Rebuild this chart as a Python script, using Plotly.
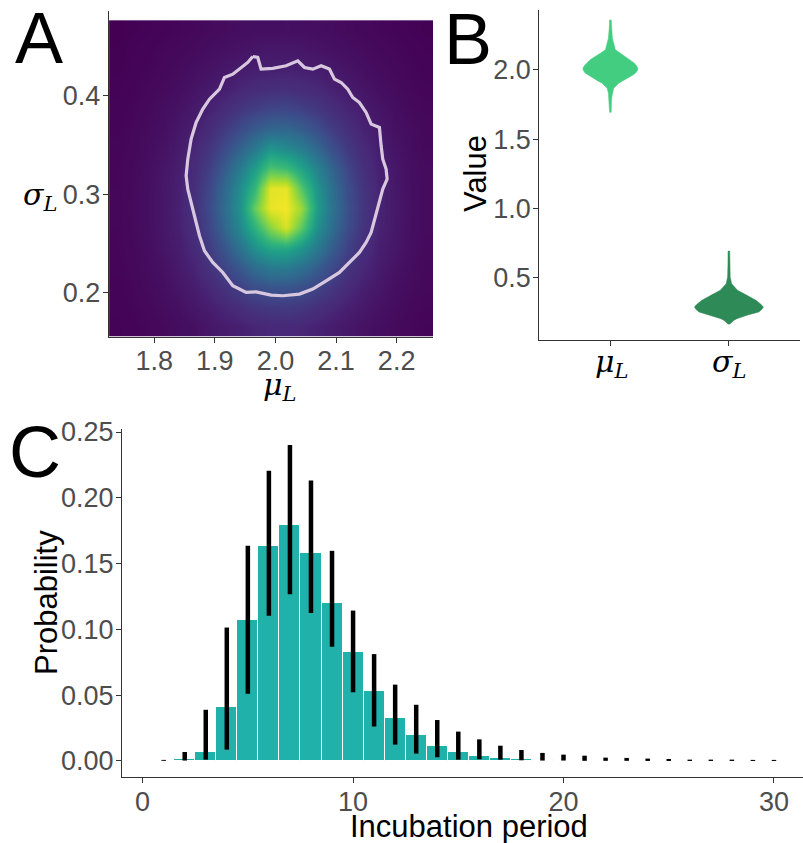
import plotly.graph_objects as go

W, H = 803, 843

# ---------------- Panel A: joint posterior density of (mu_L, sigma_L) ----------------
mu_centers = [1.738, 1.763, 1.789, 1.814, 1.840, 1.865, 1.891, 1.916, 1.941, 1.967, 1.992,
              2.018, 2.043, 2.069, 2.094, 2.120, 2.145, 2.171, 2.196, 2.222, 2.247]
sigma_centers = [0.165, 0.185, 0.205, 0.225, 0.245, 0.266, 0.286, 0.306, 0.326, 0.346,
                 0.366, 0.386, 0.407, 0.427, 0.447, 0.467]

# rows follow sigma_centers (bottom to top), columns follow mu_centers
density = [
    [0.004, 0.006, 0.010, 0.014, 0.020, 0.025, 0.036, 0.044, 0.050, 0.060, 0.065, 0.066, 0.062, 0.052, 0.045, 0.037, 0.028, 0.021, 0.016, 0.010, 0.007],
    [0.005, 0.008, 0.012, 0.019, 0.025, 0.037, 0.047, 0.062, 0.079, 0.100, 0.111, 0.113, 0.104, 0.084, 0.066, 0.049, 0.039, 0.027, 0.020, 0.013, 0.009],
    [0.006, 0.010, 0.016, 0.023, 0.034, 0.046, 0.065, 0.094, 0.129, 0.169, 0.188, 0.192, 0.175, 0.139, 0.104, 0.069, 0.049, 0.036, 0.024, 0.017, 0.011],
    [0.008, 0.012, 0.019, 0.027, 0.041, 0.058, 0.091, 0.140, 0.202, 0.278, 0.329, 0.336, 0.290, 0.221, 0.156, 0.099, 0.064, 0.044, 0.030, 0.020, 0.013],
    [0.009, 0.013, 0.021, 0.033, 0.046, 0.070, 0.117, 0.188, 0.294, 0.423, 0.516, 0.528, 0.443, 0.324, 0.216, 0.130, 0.078, 0.049, 0.036, 0.023, 0.015],
    [0.009, 0.015, 0.023, 0.036, 0.050, 0.082, 0.144, 0.245, 0.392, 0.577, 0.780, 0.930, 0.700, 0.426, 0.275, 0.161, 0.095, 0.055, 0.039, 0.024, 0.016],
    [0.010, 0.015, 0.023, 0.036, 0.052, 0.089, 0.156, 0.267, 0.430, 0.720, 0.960, 0.983, 0.820, 0.477, 0.296, 0.172, 0.101, 0.058, 0.040, 0.025, 0.017],
    [0.009, 0.015, 0.023, 0.036, 0.050, 0.084, 0.148, 0.253, 0.406, 0.600, 0.950, 0.960, 0.680, 0.440, 0.282, 0.165, 0.097, 0.056, 0.039, 0.024, 0.016],
    [0.009, 0.014, 0.022, 0.034, 0.048, 0.074, 0.126, 0.210, 0.331, 0.477, 0.660, 0.620, 0.508, 0.365, 0.239, 0.142, 0.085, 0.050, 0.037, 0.023, 0.016],
    [0.008, 0.012, 0.020, 0.029, 0.043, 0.063, 0.101, 0.160, 0.239, 0.327, 0.450, 0.401, 0.348, 0.259, 0.175, 0.110, 0.069, 0.046, 0.032, 0.021, 0.014],
    [0.007, 0.011, 0.017, 0.024, 0.037, 0.049, 0.073, 0.112, 0.161, 0.210, 0.247, 0.253, 0.222, 0.171, 0.120, 0.080, 0.055, 0.040, 0.027, 0.019, 0.012],
    [0.005, 0.009, 0.014, 0.021, 0.029, 0.041, 0.054, 0.073, 0.102, 0.126, 0.145, 0.149, 0.132, 0.107, 0.079, 0.058, 0.044, 0.032, 0.022, 0.015, 0.010],
    [0.004, 0.007, 0.011, 0.016, 0.022, 0.031, 0.041, 0.049, 0.063, 0.073, 0.082, 0.084, 0.075, 0.066, 0.052, 0.043, 0.033, 0.023, 0.018, 0.011, 0.008],
    [0.002, 0.005, 0.008, 0.012, 0.017, 0.023, 0.029, 0.037, 0.044, 0.048, 0.050, 0.051, 0.049, 0.045, 0.039, 0.031, 0.024, 0.018, 0.013, 0.009, 0.006],
    [0.001, 0.004, 0.006, 0.010, 0.012, 0.017, 0.021, 0.025, 0.030, 0.035, 0.037, 0.037, 0.035, 0.031, 0.026, 0.022, 0.018, 0.013, 0.010, 0.007, 0.004],
    [0.000, 0.002, 0.004, 0.006, 0.009, 0.011, 0.015, 0.018, 0.021, 0.023, 0.023, 0.024, 0.023, 0.021, 0.019, 0.015, 0.012, 0.009, 0.007, 0.004, 0.002],
]

# highest-density region outline
hdr_mu = [1.9626, 1.9708, 1.9763, 1.9956, 2.0176, 2.0369, 2.0479, 2.0616, 2.0754, 2.0891,
          2.0974, 2.1084, 2.1194, 2.1276, 2.1386, 2.1496, 2.1579, 2.1716, 2.1744, 2.1771,
          2.1826, 2.1843, 2.1771, 2.1716, 2.1661, 2.1579, 2.1496, 2.1386, 2.1221, 2.1056,
          2.0836, 2.0616, 2.0396, 2.0121, 1.9928, 1.9681, 1.9516, 1.9296, 1.9131, 1.8966,
          1.8828, 1.8746, 1.8691, 1.8608, 1.8553, 1.8526, 1.8553, 1.8608, 1.8691, 1.8801,
          1.8911, 1.9076, 1.9158, 1.9296, 1.9406, 1.9543, 1.9626]
hdr_sigma = [0.4402, 0.4392, 0.4273, 0.4280, 0.4307, 0.4358, 0.4290, 0.4273, 0.4307, 0.4273,
             0.4171, 0.4137, 0.4069, 0.3984, 0.3933, 0.3832, 0.3713, 0.3679, 0.3492, 0.3356,
             0.3255, 0.3153, 0.3051, 0.2915, 0.2779, 0.2610, 0.2508, 0.2406, 0.2304, 0.2202,
             0.2117, 0.2033, 0.1982, 0.1965, 0.1971, 0.2005, 0.1999, 0.2067, 0.2202, 0.2304,
             0.2423, 0.2576, 0.2711, 0.2915, 0.3051, 0.3187, 0.3356, 0.3560, 0.3730, 0.3866,
             0.3967, 0.4069, 0.4188, 0.4222, 0.4273, 0.4341, 0.4402]

# viridis colours placed on a slightly compressed (gamma) density scale
viridis_colors = ["#440154", "#482878", "#3e4989", "#31688e", "#26828e",
                  "#1f9e89", "#35b779", "#6ece58", "#b5de2b", "#fde725"]
viridis_stops = [0.0, 0.064, 0.153, 0.253, 0.363, 0.48, 0.603, 0.73, 0.863, 1.0]

# ---------------- Panel B: marginal posterior violins ----------------
violin_labels = ["<i>μ</i><sub><i>L</i></sub>", "<i>σ</i><sub><i>L</i></sub>"]
mu_violin_value = [1.693, 1.75, 1.80, 1.833, 1.868, 1.904, 1.92, 1.94, 1.96, 1.976, 1.995, 2.012,
                   2.03, 2.048, 2.066, 2.084, 2.10, 2.12, 2.144, 2.191, 2.227, 2.30, 2.359]
mu_violin_halfwidth = [0.007, 0.0085, 0.011, 0.017, 0.028, 0.070, 0.106, 0.144, 0.186, 0.211, 0.228, 0.232,
                       0.220, 0.203, 0.180, 0.152, 0.118, 0.084, 0.042, 0.028, 0.017, 0.010, 0.007]
sigma_violin_value = [0.167, 0.178, 0.193, 0.207, 0.231, 0.255, 0.275, 0.291, 0.31, 0.339, 0.375,
                      0.411, 0.459, 0.507, 0.60, 0.694]
sigma_violin_halfwidth = [0.006, 0.020, 0.040, 0.068, 0.152, 0.253, 0.279, 0.291, 0.270, 0.228, 0.152,
                          0.073, 0.023, 0.011, 0.008, 0.007]

# ---------------- Panel C: incubation period distribution ----------------
days = list(range(1, 31))
prob = [0.0003, 0.0013, 0.0066, 0.0409, 0.1072, 0.1635, 0.1796, 0.1577, 0.1198, 0.0825,
        0.0530, 0.0325, 0.0194, 0.0115, 0.0071, 0.0040, 0.0025, 0.0018, 0.0010, 0.0008,
        0.0005, 0.0004, 0.0003, 0.0002, 0.0002, 0.0001, 0.0001, 0.0001, 0.0001, 0.0001]
prob_low = [0.0001, 0.0003, 0.0010, 0.0086, 0.0510, 0.1103, 0.1267, 0.1125, 0.0868, 0.0522,
            0.0262, 0.0124, 0.0056, 0.0028, 0.0010, 0.0013, 0.0010, 0.0005, 0.0003, 0.0003,
            0.0001, 0.0001, 0.0001, 0.0000, 0.0000, 0.0000, 0.0000, 0.0000, 0.0000, 0.0000]
prob_high = [0.0008, 0.0068, 0.0389, 0.1014, 0.1635, 0.2205, 0.2402, 0.2132, 0.1597, 0.1143,
             0.0812, 0.0580, 0.0427, 0.0311, 0.0223, 0.0164, 0.0116, 0.0083, 0.0061, 0.0048,
             0.0040, 0.0025, 0.0023, 0.0018, 0.0015, 0.0010, 0.0010, 0.0010, 0.0008, 0.0008]

SANS = "Liberation Sans, Arial, sans-serif"
SERIF = "DejaVu Serif, Liberation Serif, serif"
TICK_FONT = dict(family=SANS, size=27, color="#4D4D4D")
TITLE_FONT = dict(family=SANS, size=31, color="black")
MATH_FONT = dict(family=SERIF, size=30, color="black")

def px(x):
    return x / W

def py(y):
    return 1 - y / H

fig = go.Figure()

# Panel A
fig.add_trace(go.Heatmap(
    x=mu_centers, y=sigma_centers, z=density,
    colorscale=[[s, c] for s, c in zip(viridis_stops, viridis_colors)], zmin=0, zmax=1,
    zsmooth="best", showscale=False, hoverinfo="skip", xaxis="x", yaxis="y"))
fig.add_trace(go.Scatter(
    x=hdr_mu, y=hdr_sigma, mode="lines", line=dict(color="#d8c8df", width=3.2),
    hoverinfo="skip", showlegend=False, xaxis="x", yaxis="y"))

# Panel B
violin_colors = ["#43cd80", "#2e8b57"]
for pos, (vals, hw, col) in enumerate([(mu_violin_value, mu_violin_halfwidth, violin_colors[0]),
                                       (sigma_violin_value, sigma_violin_halfwidth, violin_colors[1])], start=1):
    xs = [pos - h for h in hw] + [pos + h for h in reversed(hw)]
    ys = list(vals) + list(reversed(vals))
    fig.add_trace(go.Scatter(
        x=xs, y=ys, mode="lines", fill="toself", fillcolor=col,
        line=dict(color=col, width=0.5), showlegend=False, hoverinfo="skip",
        xaxis="x2", yaxis="y2"))

# Panel C
fig.add_trace(go.Bar(
    x=days, y=prob, width=1.0, marker=dict(color="#20b2aa", line=dict(color="white", width=1)),
    showlegend=False, hoverinfo="skip", xaxis="x3", yaxis="y3"))
fig.add_trace(go.Scatter(
    x=days, y=prob, mode="markers", marker=dict(size=1, color="rgba(0,0,0,0)"),
    error_y=dict(type="data", symmetric=False,
                 array=[h - p for h, p in zip(prob_high, prob)],
                 arrayminus=[p - l for p, l in zip(prob, prob_low)],
                 color="black", thickness=4.5, width=0),
    showlegend=False, hoverinfo="skip", xaxis="x3", yaxis="y3"))

axis_common = dict(showline=True, linecolor="#333333", linewidth=1.2, ticks="outside",
                   ticklen=5, tickcolor="#333333", tickwidth=1.2, showgrid=False,
                   zeroline=False, tickfont=TICK_FONT, automargin=False)
x_common = dict(axis_common, ticklabelstandoff=-5)
y_common = dict(axis_common, ticklabelstandoff=-3)

fig.update_layout(
    width=W, height=H, margin=dict(l=0, r=0, t=0, b=0, pad=0, autoexpand=False),
    paper_bgcolor="white", plot_bgcolor="white", bargap=0, showlegend=False,
    xaxis=dict(domain=[px(108.7), px(433)], range=[1.7248, 2.26], anchor="y",
               tickvals=[1.8, 1.9, 2.0, 2.1, 2.2], tickformat=".1f", **x_common),
    yaxis=dict(domain=[py(336.7), py(11)], range=[0.1548, 0.4865], anchor="x",
               tickvals=[0.2, 0.3, 0.4], tickformat=".1f", **y_common),
    xaxis2=dict(domain=[px(539.3), px(800)], range=[0.4, 2.6], anchor="y2",
                tickvals=[1, 2], showticklabels=False, **x_common),
    yaxis2=dict(domain=[py(340), py(10)], range=[0.053, 2.431], anchor="x2",
                tickvals=[0.5, 1.0, 1.5, 2.0], tickformat=".1f", **y_common),
    xaxis3=dict(domain=[px(122), 1.0], range=[-0.98, 31.38], anchor="y3",
                tickvals=[0, 10, 20, 30], **x_common),
    yaxis3=dict(domain=[py(777), py(429)], range=[-0.0122, 0.2523], anchor="x3",
                tickvals=[0, 0.05, 0.10, 0.15, 0.20, 0.25], tickformat=".2f", **y_common),
)

annotations = [
    # panel letters
    dict(text="A", x=px(39), y=py(38), font=dict(family=SANS, size=72, color="black")),
    dict(text="B", x=px(467.5), y=py(39), font=dict(family=SANS, size=72, color="black")),
    dict(text="C", x=px(34.5), y=py(451.5), font=dict(family=SANS, size=72, color="black")),
    # axis titles
    dict(text=violin_labels[1], x=px(40), y=py(196), font=MATH_FONT),
    dict(text=violin_labels[0], x=px(279), y=py(387), font=MATH_FONT),
    dict(text="Value", x=px(475), y=py(174), textangle=-90, font=TITLE_FONT),
    dict(text="Probability", x=px(46), y=py(603), textangle=-90, font=TITLE_FONT),
    dict(text="Incubation period", x=px(469), y=py(826), font=TITLE_FONT),
    # category labels under the violins
    dict(text=violin_labels[0], x=px(611), y=py(364), font=MATH_FONT),
    dict(text=violin_labels[1], x=px(729), y=py(364), font=MATH_FONT),
]
for a in annotations:
    a.update(xref="paper", yref="paper", xanchor="center", yanchor="middle", showarrow=False)
fig.update_layout(annotations=annotations)

fig.write_html("out.html")
